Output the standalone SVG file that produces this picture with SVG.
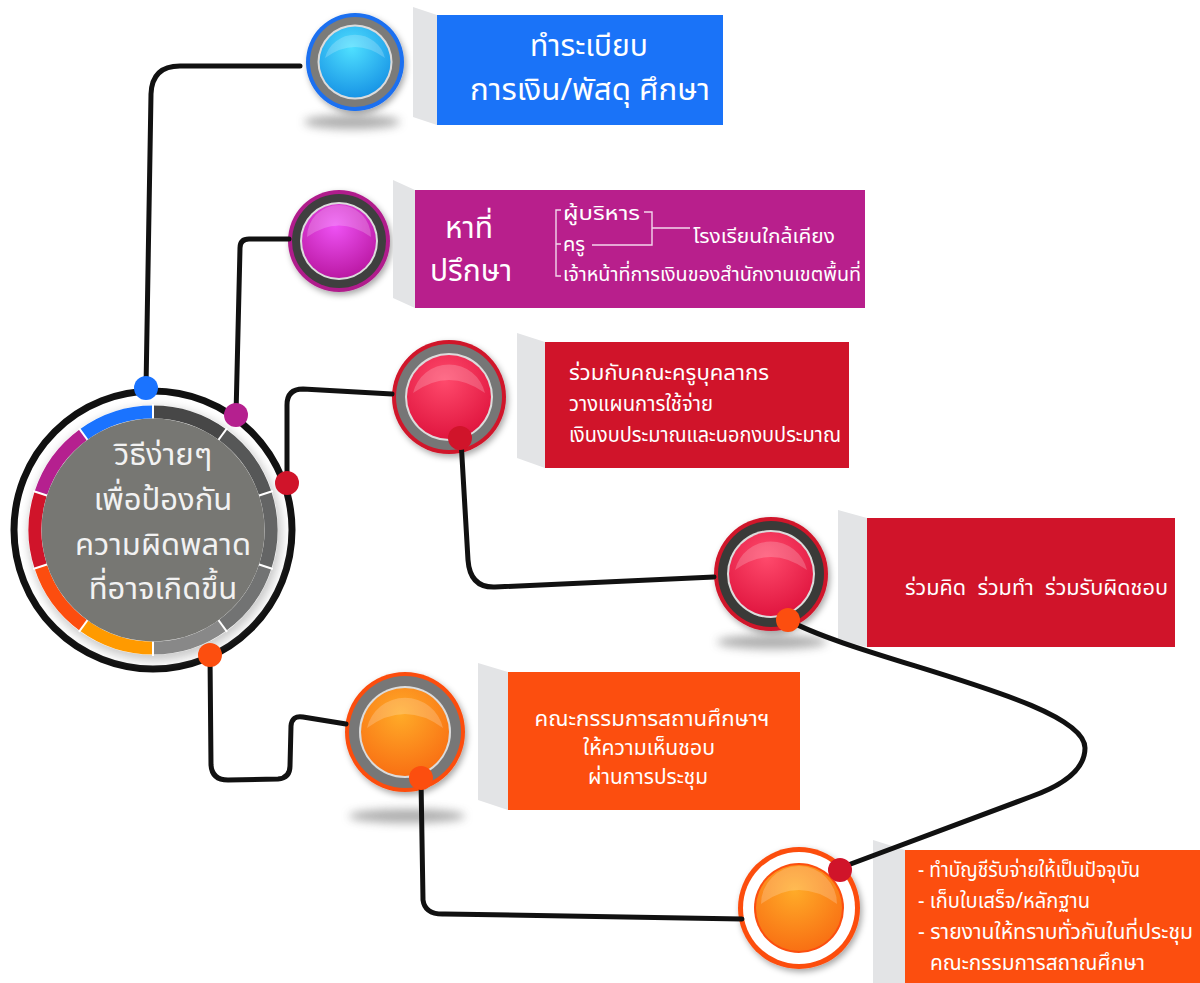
<svg xmlns="http://www.w3.org/2000/svg" width="1200" height="983" viewBox="0 0 1200 983">
<defs>
<style>
.t{font-family:'Noto Sans Thai','Noto Sans Thai UI','Noto Sans','DejaVu Sans',sans-serif;fill:#fff}
.big{font-size:30px}
.sm{font-size:21px}
.xs{font-size:20px}
.mid{text-anchor:middle}
.conn{fill:none;stroke:#111;stroke-width:5;stroke-linecap:round;stroke-linejoin:round}
.panel{fill:#e3e4e6}
.br{fill:none;stroke:#f3d6ec;stroke-width:1.4}
.shadow{fill:#6a6a6a;opacity:.55}
.seg{fill:none;stroke-width:13}
.div{stroke:#fff;stroke-width:2}
.wr{fill:#dcdcdc}
.hl{fill:#fff;opacity:.2}
</style>
<filter id="blur" x="-50%" y="-100%" width="200%" height="300%"><feGaussianBlur stdDeviation="5"/></filter>
<filter id="ds" x="-30%" y="-30%" width="160%" height="160%"><feDropShadow dx="2" dy="3" stdDeviation="3" flood-color="#000" flood-opacity="0.35"/></filter>
<radialGradient id="gBlue" cx="45%" cy="30%" r="75%"><stop offset="0" stop-color="#4fe0ff"/><stop offset="1" stop-color="#1590e4"/></radialGradient>
<radialGradient id="gMag" cx="45%" cy="30%" r="75%"><stop offset="0" stop-color="#ee52f4"/><stop offset="1" stop-color="#b8159f"/></radialGradient>
<radialGradient id="gRed" cx="45%" cy="30%" r="75%"><stop offset="0" stop-color="#ff4a6c"/><stop offset="1" stop-color="#de123c"/></radialGradient>
<radialGradient id="gOr" cx="45%" cy="30%" r="75%"><stop offset="0" stop-color="#ffab28"/><stop offset="1" stop-color="#f86c12"/></radialGradient>
</defs>
<rect width="1200" height="983" fill="#fff"/>

<g id="center">
<circle cx="153" cy="530" r="139" fill="#fff" stroke="#111" stroke-width="7"/>
<circle cx="155" cy="534" r="127" fill="#9a9a9a" opacity=".5" filter="url(#blur)"/>
<circle cx="153" cy="530" r="125" fill="#fff"/>
<path class="seg" stroke="#474747" d="M153,412 A118,118 0 0 1 222.36,434.54"/>
<path class="seg" stroke="#565757" d="M222.36,434.54 A118,118 0 0 1 265.23,493.54"/>
<path class="seg" stroke="#646565" d="M265.23,493.54 A118,118 0 0 1 265.23,566.46"/>
<path class="seg" stroke="#727373" d="M265.23,566.46 A118,118 0 0 1 222.36,625.46"/>
<path class="seg" stroke="#888888" d="M222.36,625.46 A118,118 0 0 1 153,648"/>
<path class="seg" stroke="#ff9a00" d="M153,648 A118,118 0 0 1 83.64,625.46"/>
<path class="seg" stroke="#fc4d0f" d="M83.64,625.46 A118,118 0 0 1 40.77,566.46"/>
<path class="seg" stroke="#d0142a" d="M40.77,566.46 A118,118 0 0 1 40.77,493.54"/>
<path class="seg" stroke="#b5208f" d="M40.77,493.54 A118,118 0 0 1 83.64,434.54"/>
<path class="seg" stroke="#1a73ff" d="M83.64,434.54 A118,118 0 0 1 153,412"/>
<g class="div">
<line x1="153" y1="420" x2="153" y2="404"/>
<line x1="217.66" y1="441.01" x2="227.06" y2="428.07"/>
<line x1="257.62" y1="496.01" x2="272.84" y2="491.07"/>
<line x1="257.62" y1="563.99" x2="272.84" y2="568.93"/>
<line x1="217.66" y1="618.99" x2="227.06" y2="631.93"/>
<line x1="153" y1="640" x2="153" y2="656"/>
<line x1="88.34" y1="618.99" x2="78.94" y2="631.93"/>
<line x1="48.38" y1="563.99" x2="33.16" y2="568.93"/>
<line x1="48.38" y1="496.01" x2="33.16" y2="491.07"/>
<line x1="88.34" y1="441.01" x2="78.94" y2="428.07"/>
</g>
<circle cx="153" cy="530" r="111.5" fill="#777773"/>
<text class="t mid" font-size="31" style="fill:#f2f2f2"><tspan x="163" y="465">วิธีง่ายๆ</tspan><tspan x="163" y="510">เพื่อป้องกัน</tspan><tspan x="163" y="555">ความผิดพลาด</tspan><tspan x="163" y="599">ที่อาจเกิดขึ้น</tspan></text>
</g>

<g id="node1">
<ellipse class="shadow" cx="352" cy="122" rx="48" ry="7" filter="url(#blur)"/>
<circle cx="355" cy="62" r="49" fill="#1a6ff0" filter="url(#ds)"/>
<circle cx="355" cy="62" r="45" fill="#7b7b79"/>
<circle cx="355" cy="62" r="37.5" class="wr"/>
<circle cx="355" cy="62" r="35.5" fill="url(#gBlue)"/>
<path class="hl" d="M325,58 A31,31 0 0 1 385,58 Q355,36 325,58Z"/>
<polygon class="panel" points="413,7 437,15 437,125 413,117"/>
<rect x="437" y="15" width="286" height="110" fill="#1a73f8"/>
<text class="t big mid"><tspan x="589" y="56">ทำระเบียบ</tspan><tspan x="590" y="100" textLength="240" lengthAdjust="spacingAndGlyphs">การเงิน/พัสดุ ศึกษา</tspan></text>
</g>

<g id="node2">
<circle cx="339" cy="241" r="51" fill="#b01d8c" filter="url(#ds)"/>
<circle cx="339" cy="241" r="47" fill="#3f3f3f"/>
<circle cx="339" cy="241" r="39" class="wr"/>
<circle cx="339" cy="241" r="37" fill="url(#gMag)"/>
<path class="hl" d="M307,237 A32,32 0 0 1 371,237 Q339,214 307,237Z"/>
<polygon class="panel" points="393,180 415,190 415,308 393,298"/>
<rect x="415" y="190" width="450" height="118" fill="#b81f8c"/>
<text class="t big mid"><tspan x="469" y="238">หาที่</tspan><tspan x="471" y="281">ปรึกษา</tspan></text>
<path class="br" d="M561,210 L556,210 L556,276 L561,276 M556,244 L561,244 M644,212 L652,212 L652,245 L592,245 M652,228 L690,228"/>
<text class="t xs"><tspan x="563" y="220" textLength="77" lengthAdjust="spacingAndGlyphs">ผู้บริหาร</tspan><tspan x="563" y="251">ครู</tspan><tspan x="563" y="281" textLength="298" lengthAdjust="spacingAndGlyphs">เจ้าหน้าที่การเงินของสำนักงานเขตพื้นที่</tspan></text>
<text class="t xs" x="693" y="243" textLength="142" lengthAdjust="spacingAndGlyphs">โรงเรียนใกล้เคียง</text>
</g>

<g id="node3">
<circle cx="449" cy="397" r="57" fill="#d0142a" filter="url(#ds)"/>
<circle cx="449" cy="397" r="53" fill="#767676"/>
<circle cx="449" cy="397" r="44" class="wr"/>
<circle cx="449" cy="397" r="42" fill="url(#gRed)"/>
<path class="hl" d="M413,393 A37,37 0 0 1 485,393 Q449,367 413,393Z"/>
<polygon class="panel" points="517,333 545,342 545,468 517,458"/>
<rect x="545" y="342" width="304" height="126" fill="#d0142a"/>
<text class="t sm"><tspan x="569" y="380" textLength="200" lengthAdjust="spacingAndGlyphs">ร่วมกับคณะครูบุคลากร</tspan><tspan x="569" y="411" textLength="144" lengthAdjust="spacingAndGlyphs">วางแผนการใช้จ่าย</tspan><tspan x="569" y="442" textLength="272" lengthAdjust="spacingAndGlyphs">เงินงบประมาณและนอกงบประมาณ</tspan></text>
</g>

<g id="node4">
<ellipse class="shadow" cx="772" cy="642" rx="55" ry="7" filter="url(#blur)"/>
<circle cx="771" cy="574" r="57" fill="#d0142a" filter="url(#ds)"/>
<circle cx="771" cy="574" r="53" fill="#3a3a38"/>
<circle cx="771" cy="574" r="44" class="wr"/>
<circle cx="771" cy="574" r="42" fill="url(#gRed)"/>
<path class="hl" d="M735,570 A37,37 0 0 1 807,570 Q771,544 735,570Z"/>
<polygon class="panel" points="838,510 867,518 867,647 838,640"/>
<rect x="867" y="518" width="308" height="129" fill="#d0142a"/>
<text class="t sm" x="905" y="595" xml:space="preserve" textLength="263" lengthAdjust="spacingAndGlyphs">ร่วมคิด  ร่วมทำ  ร่วมรับผิดชอบ</text>
</g>

<g id="node5">
<ellipse class="shadow" cx="407" cy="816" rx="58" ry="7" filter="url(#blur)"/>
<circle cx="405" cy="732" r="60" fill="#fc4e0f" filter="url(#ds)"/>
<circle cx="405" cy="732" r="56" fill="#777777"/>
<circle cx="405" cy="732" r="46" class="wr"/>
<circle cx="405" cy="732" r="44" fill="url(#gOr)"/>
<path class="hl" d="M367,728 A39,39 0 0 1 443,728 Q405,700 367,728Z"/>
<polygon class="panel" points="478,663 508,672 508,810 478,800"/>
<rect x="508" y="672" width="292" height="138" fill="#fc4e0f"/>
<text class="t sm mid"><tspan x="652" y="726" textLength="235" lengthAdjust="spacingAndGlyphs">คณะกรรมการสถานศึกษาฯ</tspan><tspan x="649" y="755" textLength="132" lengthAdjust="spacingAndGlyphs">ให้ความเห็นชอบ</tspan><tspan x="648" y="784" textLength="120" lengthAdjust="spacingAndGlyphs">ผ่านการประชุม</tspan></text>
</g>

<g id="node6">
<circle cx="799" cy="908" r="61" fill="#fc4e0f" filter="url(#ds)"/>
<circle cx="799" cy="908" r="56" fill="#ffffff"/>
<circle cx="799" cy="908" r="45" fill="#fc4e0f"/>
<circle cx="799" cy="908" r="43" fill="url(#gOr)"/>
<path class="hl" d="M761,904 A38,38 0 0 1 837,904 Q799,876 761,904Z"/>
<polygon class="panel" points="873,840 905,850 905,983 873,983"/>
<rect x="905" y="850" width="295" height="133" fill="#fc4e0f"/>
<text class="t sm" xml:space="preserve"><tspan x="918" y="877" textLength="222" lengthAdjust="spacingAndGlyphs">- ทำบัญชีรับจ่ายให้เป็นปัจจุบัน</tspan><tspan x="918" y="908" textLength="172" lengthAdjust="spacingAndGlyphs">- เก็บใบเสร็จ/หลักฐาน</tspan><tspan x="918" y="939" textLength="275" lengthAdjust="spacingAndGlyphs">- รายงานให้ทราบทั่วกันในที่ประชุม</tspan><tspan x="930" y="970" textLength="215" lengthAdjust="spacingAndGlyphs">คณะกรรมการสถาณศึกษา</tspan></text>
</g>

<g id="connectors">
<path class="conn" d="M146,388 L151,94 Q152,66 180,66 L300,66"/>
<path class="conn" d="M236,415 L240,248 Q240,239 249,239 L289,239"/>
<path class="conn" d="M287,483 L287,405 Q287,389 303,389 L392,394"/>
<path class="conn" d="M461,440 L468,560 Q470,588 495,587 L714,577"/>
<path class="conn" d="M210,655 L211,765 Q212,780 228,780 L278,779 Q290,778 290,766 L291,726 Q292,715 303,717 L346,724"/>
<path class="conn" d="M421,780 L423,900 Q425,915 445,914 L742,919"/>
<path class="conn" d="M788,620 C860,660 1085,700 1085,748 C1085,775 1050,790 1030,797 L840,868"/>
<circle cx="146" cy="388" r="12" fill="#1a73ff"/>
<circle cx="236" cy="415" r="12" fill="#b5208f"/>
<circle cx="287" cy="483" r="12" fill="#d0142a"/>
<circle cx="210" cy="655" r="12" fill="#fc4e0f"/>
<circle cx="460" cy="438" r="12" fill="#d0142a"/>
<circle cx="788" cy="620" r="12" fill="#fc4e0f"/>
<circle cx="421" cy="778" r="12" fill="#fc4e0f"/>
<circle cx="840" cy="870" r="12" fill="#d0142a"/>
</g>
</svg>
